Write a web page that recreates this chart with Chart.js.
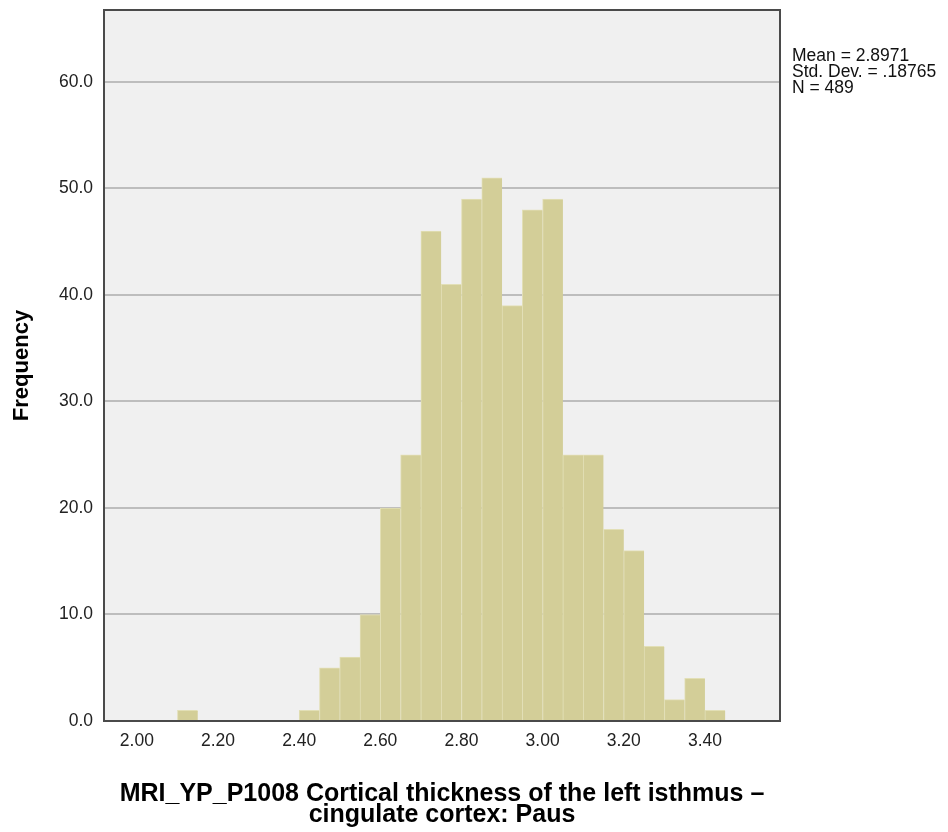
<!DOCTYPE html>
<html>
<head>
<meta charset="utf-8">
<script src="https://cdn.jsdelivr.net/npm/chart.js@4.4.1/dist/chart.umd.min.js"></script>
<style>
  html, body { margin: 0; padding: 0; background: #fff; }
  #wrap { width: 948px; height: 832px; }
</style>
</head>
<body>
<div id="wrap"><canvas id="hist"></canvas></div>
<script>
// ============================= histogram data

const binLower = [2.10, 2.40, 2.45, 2.50, 2.55, 2.60, 2.65, 2.70, 2.75, 2.80, 2.85,
                  2.90, 2.95, 3.00, 3.05, 3.10, 3.15, 3.20, 3.25, 3.30, 3.35, 3.40]
const counts   = [1, 1, 5, 6, 10, 20, 25, 46, 41, 49, 51,
                  39, 48, 49, 25, 25, 18, 16, 7, 2, 4, 1]
const binWidth = 0.05

const xTicks = [2.00, 2.20, 2.40, 2.60, 2.80, 3.00, 3.20, 3.40]
const yTicks = [0, 10, 20, 30, 40, 50, 60]

const statsLines = ['Mean = 2.8971', 'Std. Dev. = .18765', 'N = 489']
const xTitle = ['MRI_YP_P1008 Cortical thickness of the left isthmus \u2013', 'cingulate cortex: Paus']
const yTitle = 'Frequency'

const FONT = "'Liberation Sans', Arial, sans-serif"

// ============================= small plugin: plot background, frame, stats box

const spssFrame = {
    id: 'spssFrame',
    beforeDraw: (chart) => {
        const { ctx, chartArea: a } = chart
        ctx.save()
        ctx.fillStyle = '#f0f0f0'
        ctx.fillRect(a.left, a.top, a.right - a.left, a.bottom - a.top)
        ctx.restore()
    },
    afterDatasetsDraw: (chart) => {
        const { ctx, chartArea: a } = chart
        ctx.save()
        ctx.strokeStyle = '#4a4a4a'
        ctx.lineWidth = 2
        ctx.strokeRect(a.left, a.top, a.right - a.left, a.bottom - a.top)

        // stats text to the right of the plot
        ctx.fillStyle = '#111'
        ctx.font = `17.5px ${FONT}`
        ctx.textBaseline = 'middle'
        statsLines.forEach((t, i) => ctx.fillText(t, a.right + 12, 56 + i * 16))
        ctx.restore()
    }
}

// ============================= chart

new Chart(document.getElementById('hist'), {
    type: 'bar',
    data: {
        datasets: [{
            data: binLower.map((b, i) => ({ x: b + binWidth / 2, y: counts[i] })),
            backgroundColor: '#d3ce98',
            borderColor: '#e2dfb6',
            borderWidth: { top: 1, left: 1, right: 0, bottom: 0 },
            borderSkipped: false,
            barPercentage: 1,
            categoryPercentage: 1
        }]
    },
    options: {
        responsive: true,
        maintainAspectRatio: false,
        animation: false,
        layout: { padding: { left: 0, right: 168, top: 10, bottom: 0 } },
        plugins: {
            legend: { display: false },
            tooltip: { enabled: false }
        },
        scales: {
            x: {
                type: 'linear',
                offset: false,
                min: 1.919,
                max: 3.585,
                afterBuildTicks: (s) => { s.ticks = xTicks.map(v => ({ value: v })) },
                afterFit: (s) => { s.height = 111; s.paddingLeft = 0; s.paddingRight = 0 },
                grid: { display: false, drawTicks: false },
                border: { display: false },
                ticks: {
                    padding: 10,
                    color: '#222',
                    font: { family: FONT, size: 17.5 },
                    callback: (v) => v.toFixed(2)
                },
                title: {
                    display: true,
                    text: xTitle,
                    color: '#000',
                    font: { family: FONT, size: 25, weight: 'bold', lineHeight: '21px' },
                    padding: { top: 0, bottom: 6.5 }
                }
            },
            y: {
                min: 0,
                max: 66.76,
                afterBuildTicks: (s) => { s.ticks = yTicks.map(v => ({ value: v })) },
                afterFit: (s) => { s.width = 104; s.paddingTop = 0; s.paddingBottom = 0 },
                grid: { color: '#bdbdbd', lineWidth: 2, drawTicks: false },
                border: { display: false },
                ticks: {
                    padding: 11,
                    color: '#222',
                    font: { family: FONT, size: 17.5 },
                    callback: (v) => v.toFixed(1)
                },
                title: {
                    display: true,
                    text: yTitle,
                    color: '#000',
                    font: { family: FONT, size: 22, weight: 'bold' },
                    padding: { top: 9, bottom: 0 }
                }
            }
        }
    },
    plugins: [spssFrame]
})
</script>
</body>
</html>
